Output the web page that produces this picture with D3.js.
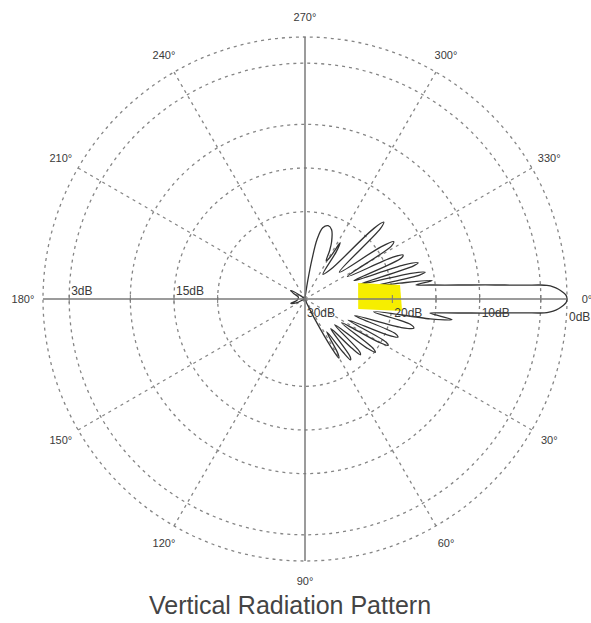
<!DOCTYPE html>
<html>
<head>
<meta charset="utf-8">
<script src="https://cdn.jsdelivr.net/npm/d3@7"></script>
<style>
  html, body { margin: 0; padding: 0; background: #ffffff; }
  svg { display: block; font-family: "Liberation Sans", Arial, sans-serif; }
</style>
</head>
<body>
<svg id="chart" width="591" height="623"></svg>
<script>
// Bearing labels, degrees clockwise from 0° (right); 90° points down.
const angleTicks = [0, 30, 60, 90, 120, 150, 180, 210, 240, 270, 300, 330];

// Attenuation rings, dB below the main-beam peak.
const ringLevels = [0, 3, 10, 15, 20];
const scaleMaxDb = 30;

// Level labels written along the horizontal axis.
const leftLevelLabels = [3, 15];
const rightLevelLabels = [30, 20, 10, 0];

// Vertical radiation pattern: [bearing in degrees, attenuation in dB].
const pattern = [
  [0, 0], [0.8, 0.1], [1.55, 0.5], [2.2, 0.95], [2.8, 1.55], [3.2, 2.25], [3.4, 3.0],
  [3.6, 4.75], [4.0, 7.05], [4.45, 9.3], [5.0, 11.6], [5.7, 13.9], [6.4, 15.6],
  [7.2, 14.4], [8.0, 13.0], [9.0, 15.5], [10.5, 22.0],
  [13.5, 17.6], [15.0, 17.1], [16.5, 18.5], [18.5, 24.0],
  [21.0, 18.9], [22.3, 18.5], [23.6, 19.8], [26.0, 24.5],
  [28.0, 19.5], [29.2, 19.1], [30.4, 20.3], [33.0, 25.0],
  [36.0, 20.3], [37.2, 19.9], [38.4, 21.0], [41.0, 25.5],
  [44.0, 21.3], [45.2, 21.0], [46.4, 22.2], [49.0, 25.5],
  [52.0, 21.6], [53.2, 21.3], [54.4, 22.5], [56.5, 25.5],
  [59.0, 22.6], [60.2, 22.2], [61.4, 23.5], [64.0, 27.5],
  [68.0, 29.5], [76.0, 29.9], [110.0, 29.9], [148.0, 29.9],
  [156.0, 29.0], [163.0, 28.3], [168.0, 29.0], [180.0, 29.2],
  [197.0, 29.2], [205.0, 28.6], [211.0, 28.1], [217.0, 29.4],
  [226.0, 29.9], [262.0, 29.9], [275.0, 29.7], [278.5, 28.0],
  [280.0, 25.4], [281.5, 23.0], [284.0, 21.6], [287.5, 21.2], [291.0, 21.5], [295.0, 22.8],
  [297.0, 23.8], [299.0, 25.0], [300.8, 24.5], [302.0, 22.4], [303.5, 23.5], [306.0, 26.5],
  [311.0, 25.5], [314.3, 18.7], [315.7, 17.4], [317.0, 18.2], [322.0, 25.0],
  [325.5, 19.5], [327.1, 17.9], [328.5, 18.4], [332.0, 24.5],
  [334.5, 19.0], [335.8, 17.7], [337.0, 18.0], [339.5, 24.0],
  [341.0, 18.0], [342.2, 16.4], [343.0, 17.0], [345.0, 23.5],
  [346.4, 17.5], [347.4, 15.9], [348.2, 16.6], [349.5, 22.0],
  [350.5, 19.0], [351.7, 15.3], [352.8, 17.2], [353.6, 15.6],
  [354.3, 13.9], [355.0, 11.6], [355.55, 9.3], [356.0, 7.05], [356.4, 4.75],
  [356.6, 3.0], [356.8, 2.25], [357.2, 1.55], [357.8, 0.95], [358.45, 0.5], [359.2, 0.1]
];

// Highlight patch laid over the pattern near the 20 dB ring: corners as [bearing, attenuation].
const highlight = [[-16.8, 23.65], [-8.4, 19.0], [7.05, 18.8], [10.7, 23.8]];

const title = "Vertical Radiation Pattern";

const svg = d3.select("#chart");
const cx = 305, cy = 299, R = 262;

const r = d3.scaleLinear().domain([scaleMaxDb, 0]).range([0, R]);
const rad = d => d * Math.PI / 180;
const px = (a, db) => cx + r(db) * Math.cos(rad(a));
const py = (a, db) => cy + r(db) * Math.sin(rad(a));

const g = svg.append("g");

// Rings
g.selectAll("circle.ring")
  .data(ringLevels)
  .join("circle")
  .attr("class", "ring")
  .attr("cx", cx).attr("cy", cy)
  .attr("r", d => r(d))
  .attr("fill", "none")
  .attr("stroke", "#858585")
  .attr("stroke-width", 1.3)
  .attr("stroke-dasharray", "3,4");

// Spokes (dashed), except the solid main axes
g.selectAll("line.spoke")
  .data(angleTicks.filter(a => a % 90 !== 0))
  .join("line")
  .attr("class", "spoke")
  .attr("x1", cx).attr("y1", cy)
  .attr("x2", a => px(a, 0)).attr("y2", a => py(a, 0))
  .attr("stroke", "#858585")
  .attr("stroke-width", 1.3)
  .attr("stroke-dasharray", "3,4");

// Radiation pattern
const radial = d3.lineRadial()
  .angle(d => rad(d[0] + 90))
  .radius(d => r(d[1]))
  .curve(d3.curveCatmullRomClosed.alpha(0.5));

g.append("path")
  .attr("transform", `translate(${cx},${cy})`)
  .attr("d", radial(pattern))
  .attr("fill", "none")
  .attr("stroke", "#333")
  .attr("stroke-width", 1.3)
  .attr("stroke-linejoin", "round");

// Highlight patch
g.append("polygon")
  .attr("points", highlight.map(([a, db]) => [px(a, db), py(a, db)].join(",")).join(" "))
  .attr("fill", "#f6ee00");

// Main axes
g.append("line")
  .attr("x1", px(180, 0)).attr("y1", cy).attr("x2", px(0, 0)).attr("y2", cy)
  .attr("stroke", "#7a7a7a").attr("stroke-width", 1.5);
g.append("line")
  .attr("x1", cx).attr("y1", py(270, 0)).attr("x2", cx).attr("y2", py(90, 0))
  .attr("stroke", "#7a7a7a").attr("stroke-width", 1.5);

// Ticks along the horizontal axis
const tickData = ringLevels.filter(d => d > 0).flatMap(d => [[0, d], [180, d]]);
g.selectAll("line.tick")
  .data(tickData)
  .join("line")
  .attr("class", "tick")
  .attr("x1", d => px(d[0], d[1])).attr("x2", d => px(d[0], d[1]))
  .attr("y1", cy - 4).attr("y2", cy + 4)
  .attr("stroke", "#7a7a7a").attr("stroke-width", 1);

// Bearing labels
g.selectAll("text.angle")
  .data(angleTicks)
  .join("text")
  .attr("class", "angle")
  .attr("x", a => cx + (R + 20) * Math.cos(rad(a)))
  .attr("y", a => cy + (R + 20) * Math.sin(rad(a)))
  .attr("text-anchor", "middle")
  .attr("dominant-baseline", "central")
  .attr("font-size", 11)
  .attr("fill", "#3a3a3a")
  .text(a => `${a}°`);

// Level labels
g.selectAll("text.lvl-left")
  .data(leftLevelLabels)
  .join("text")
  .attr("class", "lvl-left")
  .attr("x", d => px(180, d) + 2)
  .attr("y", cy - 4)
  .attr("font-size", 12)
  .attr("fill", "#3a3a3a")
  .text(d => `${d}dB`);

g.selectAll("text.lvl-right")
  .data(rightLevelLabels)
  .join("text")
  .attr("class", "lvl-right")
  .attr("x", d => px(0, d) + 2)
  .attr("y", d => cy + (d === 0 ? 22 : 18))
  .attr("font-size", 12)
  .attr("fill", "#3a3a3a")
  .text(d => `${d}dB`);

// Title
svg.append("text")
  .attr("x", 290)
  .attr("y", 614)
  .attr("text-anchor", "middle")
  .attr("font-size", 25)
  .attr("fill", "#444")
  .text(title);
</script>
</body>
</html>
